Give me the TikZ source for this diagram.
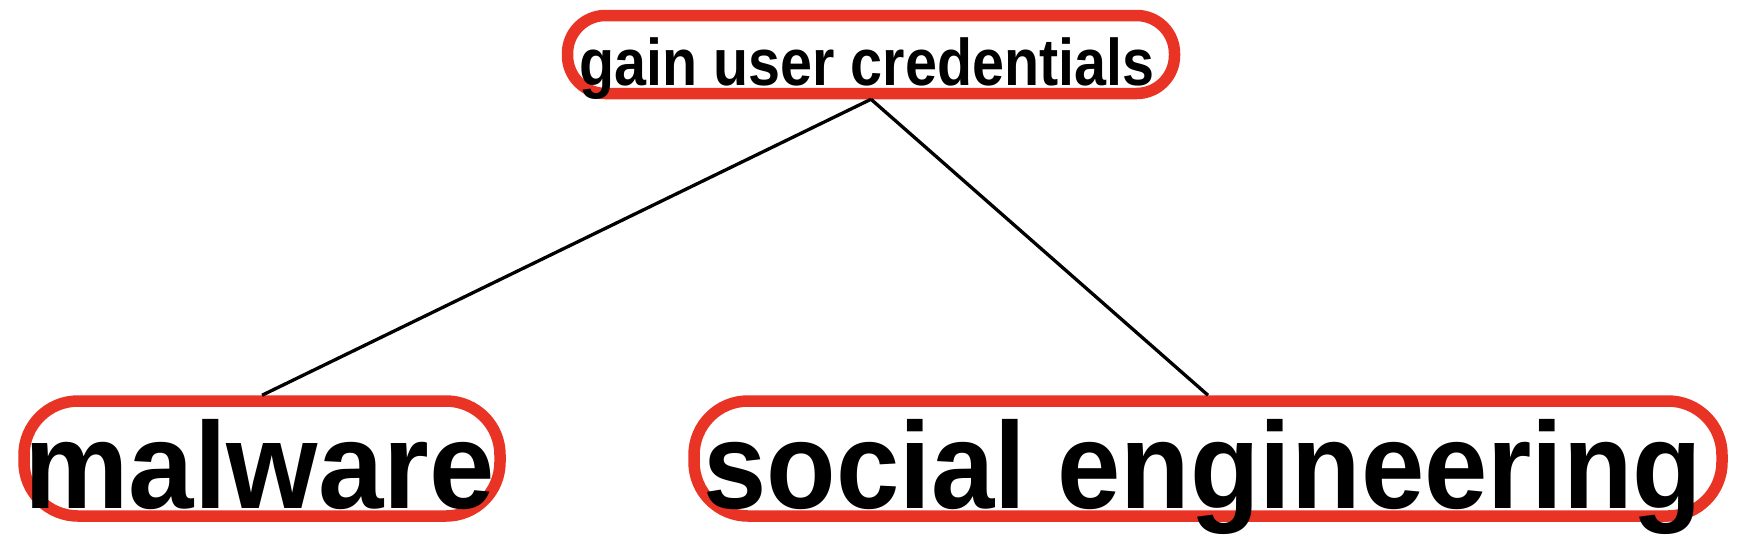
\documentclass[tikz,border=0pt]{standalone}
\usepackage{fontspec}
\usepackage{graphicx}
\setmainfont{Liberation Sans}
\definecolor{boxred}{RGB}{233,52,37}
\tikzset{
  pill/.style={draw=boxred, line width=11.5pt, rectangle, inner sep=0pt, fill=none},
  lbl/.style={anchor=base, inner sep=0pt, text=black},
  link/.style={draw=black, line width=3.3pt}
}
\begin{document}
\begin{tikzpicture}[x=1pt,y=-1pt]
\useasboundingbox[fill=white] (0,0) rectangle (1742,558);
% boxes
\node[pill, minimum width=607pt, minimum height=78pt, rounded corners=38pt] (top) at (871,54.5) {};
\node[pill, minimum width=476pt, minimum height=115pt, rounded corners=54pt] (mal) at (262,458.5) {};
\node[pill, minimum width=1028pt, minimum height=115pt, rounded corners=54pt] (soc) at (1208,458.5) {};
% connectors
\draw[link] (top.south) -- (mal.north);
\draw[link] (top.south) -- (soc.north);
% labels
\node[lbl] (toplbl) at (867,85) {\scalebox{0.87}[1]{\fontsize{66}{66}\selectfont\bfseries gain user credentials}};
\node[lbl] (mallbl) at (259.5,508) {\scalebox{0.955}[1]{\fontsize{123}{123}\selectfont\bfseries malware}};
\node[lbl] (soclbl) at (1203,508) {\scalebox{0.925}[1]{\fontsize{123}{123}\selectfont\bfseries social engineering}};
\end{tikzpicture}
\end{document}
